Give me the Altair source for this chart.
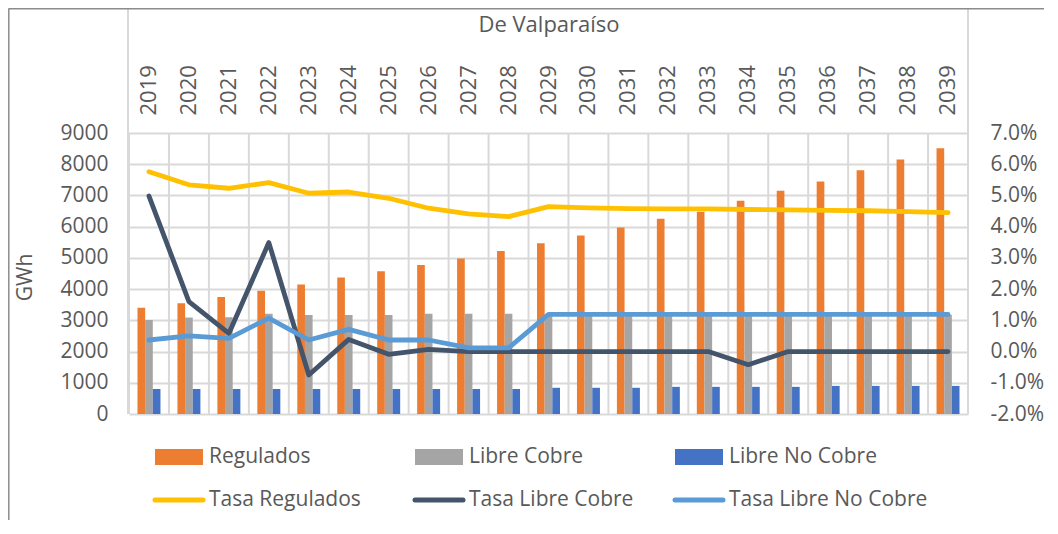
import altair as alt
import pandas as pd

FONT = "Open Sans"
TXT = "#595959"
GRID = "#d9d9d9"

years = [str(y) for y in range(2019, 2040)]

regulados = [3400, 3550, 3750, 3950, 4150, 4370, 4570, 4770, 4980, 5220, 5470,
             5720, 5970, 6250, 6480, 6830, 7150, 7450, 7810, 8150, 8510]
libre_cobre = [3010, 3090, 3100, 3210, 3170, 3170, 3170, 3210, 3210, 3210, 3180,
               3180, 3180, 3180, 3180, 3180, 3180, 3180, 3180, 3180, 3180]
libre_no_cobre = [800, 800, 800, 800, 800, 800, 800, 800, 800, 800, 840,
                  840, 840, 870, 870, 870, 870, 900, 900, 900, 900]

# growth rates in percent
tasa_regulados = [5.76, 5.34, 5.23, 5.41, 5.07, 5.11, 4.91, 4.59, 4.41, 4.32, 4.64,
                  4.60, 4.58, 4.57, 4.57, 4.55, 4.54, 4.52, 4.51, 4.48, 4.45]
tasa_libre_cobre = [4.98, 1.60, 0.58, 3.49, -0.75, 0.39, -0.09, 0.07, 0.0, 0.0, 0.0,
                    0.0, 0.0, 0.0, 0.0, -0.42, 0.0, 0.0, 0.0, 0.0, 0.0]
tasa_libre_no_cobre = [0.37, 0.50, 0.42, 1.07, 0.37, 0.71, 0.37, 0.37, 0.12, 0.12, 1.19,
                       1.19, 1.19, 1.19, 1.19, 1.19, 1.19, 1.19, 1.19, 1.19, 1.19]

bar_series = ["Regulados", "Libre Cobre", "Libre No Cobre"]
line_series = ["Tasa Regulados", "Tasa Libre Cobre", "Tasa Libre No Cobre"]
colors = ["#ED7D31", "#A5A5A5", "#4472C4", "#FFC000", "#44546A", "#5B9BD5"]

left_ticks = [0, 1000, 2000, 3000, 4000, 5000, 6000, 7000, 8000, 9000]
right_ticks = [-0.02, -0.01, 0.0, 0.01, 0.02, 0.03, 0.04, 0.05, 0.06, 0.07]

# ---- tables built from the arrays ----
bar_rows = []
for s, vals in zip(bar_series, [regulados, libre_cobre, libre_no_cobre]):
    for y, v in zip(years, vals):
        bar_rows.append({"year": y, "series": s, "value": v})
bars_df = pd.DataFrame(bar_rows)

line_rows = []
for s, vals in zip(line_series, [tasa_regulados, tasa_libre_cobre, tasa_libre_no_cobre]):
    for y, v in zip(years, vals):
        line_rows.append({"year": y, "series": s, "rate": v / 100})
lines_df = pd.DataFrame(line_rows)
years_df = pd.DataFrame({"year": years})

W, H = 839, 281
P_IN, P_OUT = 0.425, 0.2125
STEP = W / (len(years) - P_IN + 2 * P_OUT)
color_scale = alt.Scale(domain=bar_series + line_series, range=colors)

x_axis = alt.Axis(
    orient="top", labelAngle=270, labelAlign="left", labelBaseline="middle",
    labelPadding=18, ticks=False, tickSize=0, domain=False, grid=False,
    labelFontSize=22, labelColor=TXT, labelFont=FONT, labelOverlap=False,
    labelBound=False,
    title="De Valparaíso", titleX=W / 2, titleY=-109, titleFontSize=22,
    titleFontWeight="normal", titleColor=TXT, titleFont=FONT,
    titleBaseline="middle", titleAlign="center", titleAngle=0,
)
x_scale = alt.Scale(paddingInner=P_IN, paddingOuter=P_OUT)

# vertical column separators (Excel-style category grid)
vgrid = alt.Chart(years_df).mark_rule(
    color=GRID, strokeWidth=2, xOffset=-P_OUT * STEP).encode(
    x=alt.X("year:N", sort=years, scale=x_scale, axis=x_axis, bandPosition=0),
    y=alt.value(0), y2=alt.value(H),
)

bars = alt.Chart(bars_df).mark_bar().encode(
    x=alt.X("year:N", sort=years, scale=x_scale, axis=x_axis),
    xOffset=alt.XOffset("series:N", sort=bar_series,
                        scale=alt.Scale(paddingInner=0, paddingOuter=0)),
    y=alt.Y(
        "value:Q", scale=alt.Scale(domain=[0, 9000], nice=False, zero=True),
        axis=alt.Axis(
            orient="left", values=left_ticks, format="d", grid=True,
            gridColor=GRID, gridWidth=2, domain=False, ticks=False, tickSize=0,
            labelPadding=21, labelFontSize=21, labelColor=TXT, labelFont=FONT,
            title="GWh", titleX=-104, titleY=144, titleAngle=270,
            titleAlign="center", titleBaseline="middle", titleFontSize=21,
            titleFontWeight="normal", titleColor=TXT, titleFont=FONT,
        ),
    ),
    color=alt.Color("series:N", scale=color_scale, legend=None),
)

lines = alt.Chart(lines_df).mark_line(
    strokeWidth=4.8, strokeCap="round", strokeJoin="round").encode(
    x=alt.X("year:N", sort=years, scale=x_scale, axis=x_axis),
    y=alt.Y(
        "rate:Q", scale=alt.Scale(domain=[-0.02, 0.07], nice=False, zero=False),
        axis=alt.Axis(
            orient="right", values=right_ticks,
            labelExpr="replace(format(datum.value, '.1%'), '\u2212', '-')",
            grid=False, domain=False, ticks=False, tickSize=0, labelPadding=22,
            labelFontSize=21, labelColor=TXT, labelFont=FONT, title=None,
        ),
    ),
    color=alt.Color("series:N", scale=color_scale, legend=None),
    order=alt.Order("year:N"),
)

# ---- custom legend (two rows of three) ----
leg = []
for i, s in enumerate(bar_series + line_series):
    col, row = i % 3, i // 3
    x0 = 26 + 260 * col
    yc = 324 + 43 * row
    leg.append({"series": s, "x0": x0, "x1": x0 + 48, "xt": x0 + 54,
                "yc": yc, "ya": yc - 8, "yb": yc + 8, "kind": "bar" if row == 0 else "line"})
leg_df = pd.DataFrame(leg)

leg_rect = alt.Chart(leg_df).transform_filter("datum.kind == 'bar'").mark_rect().encode(
    x=alt.X("x0:Q", scale=None), x2="x1",
    y=alt.Y("ya:Q", scale=None), y2="yb",
    color=alt.Color("series:N", scale=color_scale, legend=None),
)
leg_line = alt.Chart(leg_df).transform_filter("datum.kind == 'line'").mark_rule(
    strokeWidth=5, strokeCap="round").encode(
    x=alt.X("x0:Q", scale=None), x2="x1",
    y=alt.Y("yc:Q", scale=None),
    color=alt.Color("series:N", scale=color_scale, legend=None),
)
leg_text = alt.Chart(leg_df).mark_text(
    align="left", baseline="middle", fontSize=21, color=TXT, font=FONT).encode(
    x=alt.X("xt:Q", scale=None), y=alt.Y("yc:Q", scale=None), text="series:N",
)

# ---- header box and outer frame ----
dummy = pd.DataFrame({"k": [0]})
hdr_left = alt.Chart(dummy).mark_rule(color=GRID, strokeWidth=2).encode(
    x=alt.value(-1), y=alt.value(-124), y2=alt.value(H))
hdr_right = alt.Chart(dummy).mark_rule(color=GRID, strokeWidth=2).encode(
    x=alt.value(W), y=alt.value(-124), y2=alt.value(H))
frame_top = alt.Chart(dummy).mark_rule(color="#8c8c8c", strokeWidth=1.5).encode(
    x=alt.value(-120.5), x2=alt.value(W + 80), y=alt.value(-124.2))
frame_left = alt.Chart(dummy).mark_rule(color="#8c8c8c", strokeWidth=1.5).encode(
    x=alt.value(-120.2), y=alt.value(-124.5), y2=alt.value(H + 110))

chart = alt.layer(
    hdr_left, hdr_right, frame_top, frame_left, vgrid,
    bars, lines, leg_rect, leg_line, leg_text,
).resolve_scale(
    y="independent", color="shared"
).properties(
    width=W, height=H,
    autosize=alt.AutoSizeParams(type="none"),
    padding={"left": 121, "top": 125, "right": 76, "bottom": 106},
    background="white",
).configure_view(stroke=None)

chart.save("out.html", embed_options={"renderer": "svg", "actions": False})
